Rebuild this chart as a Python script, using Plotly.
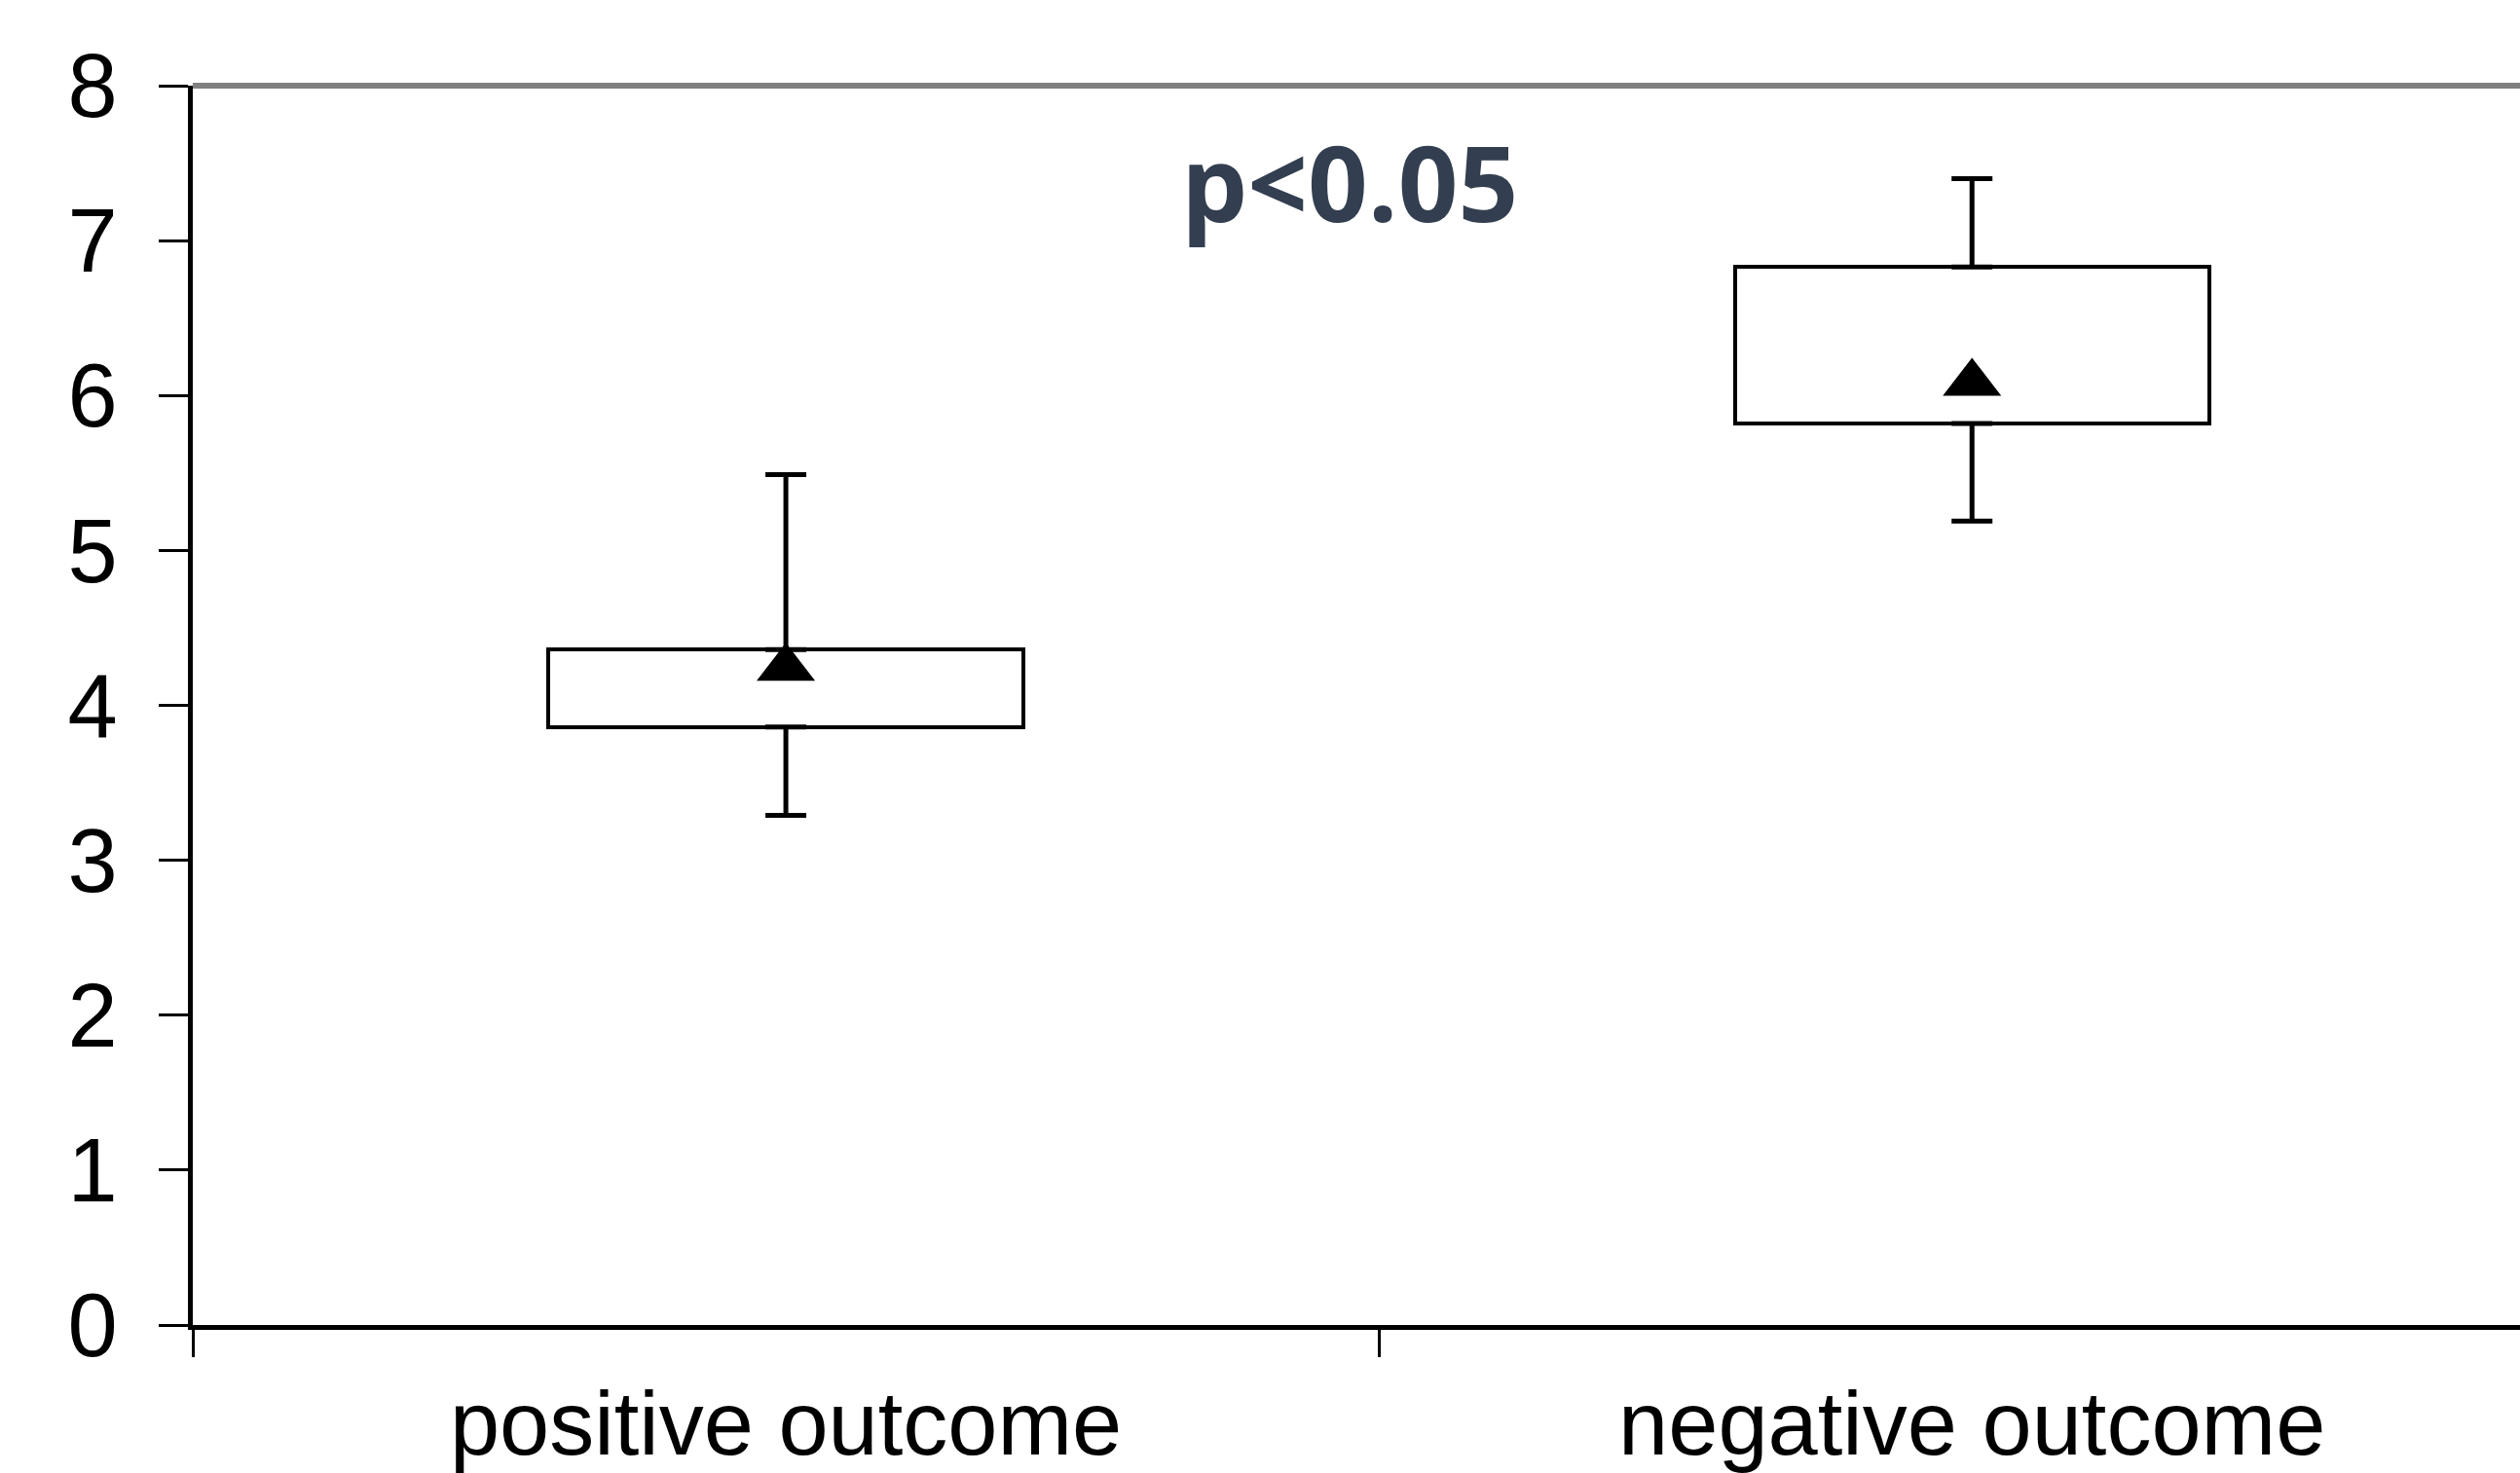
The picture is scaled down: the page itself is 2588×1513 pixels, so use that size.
import plotly.graph_objects as go

categories = ["positive outcome", "negative outcome"]
box_low = [3.86, 5.82]      # lower edge of box
box_high = [4.36, 6.83]     # upper edge of box
whisker_low = [3.29, 5.19]
whisker_high = [5.49, 7.40]
means = [4.24, 6.08]
y_ticks = [0, 1, 2, 3, 4, 5, 6, 7, 8]
p_text = "p<0.05"

box_span = [h - l for h, l in zip(box_high, box_low)]
up_err = [w - h for w, h in zip(whisker_high, box_high)]
down_err = [l - w for l, w in zip(box_low, whisker_low)]

fig = go.Figure()

fig.add_trace(go.Bar(
    x=categories, y=box_span, base=box_low, width=0.4,
    marker=dict(color="white", line=dict(color="black", width=4)),
    showlegend=False, hoverinfo="skip",
))

fig.add_trace(go.Scatter(
    x=categories, y=box_high, mode="markers",
    marker=dict(size=1, color="rgba(0,0,0,0)"),
    error_y=dict(type="data", symmetric=False, array=up_err,
                 arrayminus=[0] * len(categories),
                 color="black", thickness=5, width=21),
    showlegend=False, hoverinfo="skip",
))

fig.add_trace(go.Scatter(
    x=categories, y=box_low, mode="markers",
    marker=dict(size=1, color="rgba(0,0,0,0)"),
    error_y=dict(type="data", symmetric=False, array=[0] * len(categories),
                 arrayminus=down_err,
                 color="black", thickness=5, width=21),
    showlegend=False, hoverinfo="skip",
))

fig.add_trace(go.Scatter(
    x=categories, y=means, mode="markers",
    marker=dict(symbol="triangle-up", size=52, color="black"),
    showlegend=False, hoverinfo="skip",
))

fig.add_annotation(
    x=0.497, xref="paper", y=7.38, yref="y", text="<b>" + p_text + "</b>",
    showarrow=False, xanchor="center", yanchor="middle",
    font=dict(family="Open Sans", size=108, color="#333F50"),
)

# gray top border of plot area
fig.add_shape(type="line", xref="paper", yref="paper", x0=0, x1=1, y0=1, y1=1,
              line=dict(color="#808080", width=6))

fig.update_layout(
    width=2588, height=1513,
    margin=dict(l=198, r=0, t=88, b=146),
    plot_bgcolor="white", paper_bgcolor="white",
    bargap=0, showlegend=False,
    font=dict(family="Liberation Sans, Arial", color="black"),
)

fig.update_xaxes(
    type="category", range=[-0.5, 1.462], tickson="boundaries",
    ticks="outside", ticklen=28, tickwidth=3, tickcolor="black",
    showline=True, linecolor="black", linewidth=5,
    showgrid=False, zeroline=False, ticklabelstandoff=18,
    tickfont=dict(family="Liberation Sans, Arial", size=92, color="black"),
)

fig.update_yaxes(
    range=[0, 8], tickvals=y_ticks, ticktext=[str(v) for v in y_ticks],
    ticks="outside", ticklen=30, tickwidth=3, tickcolor="black",
    showline=True, linecolor="black", linewidth=5,
    showgrid=False, zeroline=False, ticklabelstandoff=24,
    tickfont=dict(family="Liberation Sans, Arial", size=92, color="black"),
)

fig.write_html("out.html", config={"displayModeBar": False},
               post_script="document.body.style.margin='0';document.body.style.overflow='hidden';")
